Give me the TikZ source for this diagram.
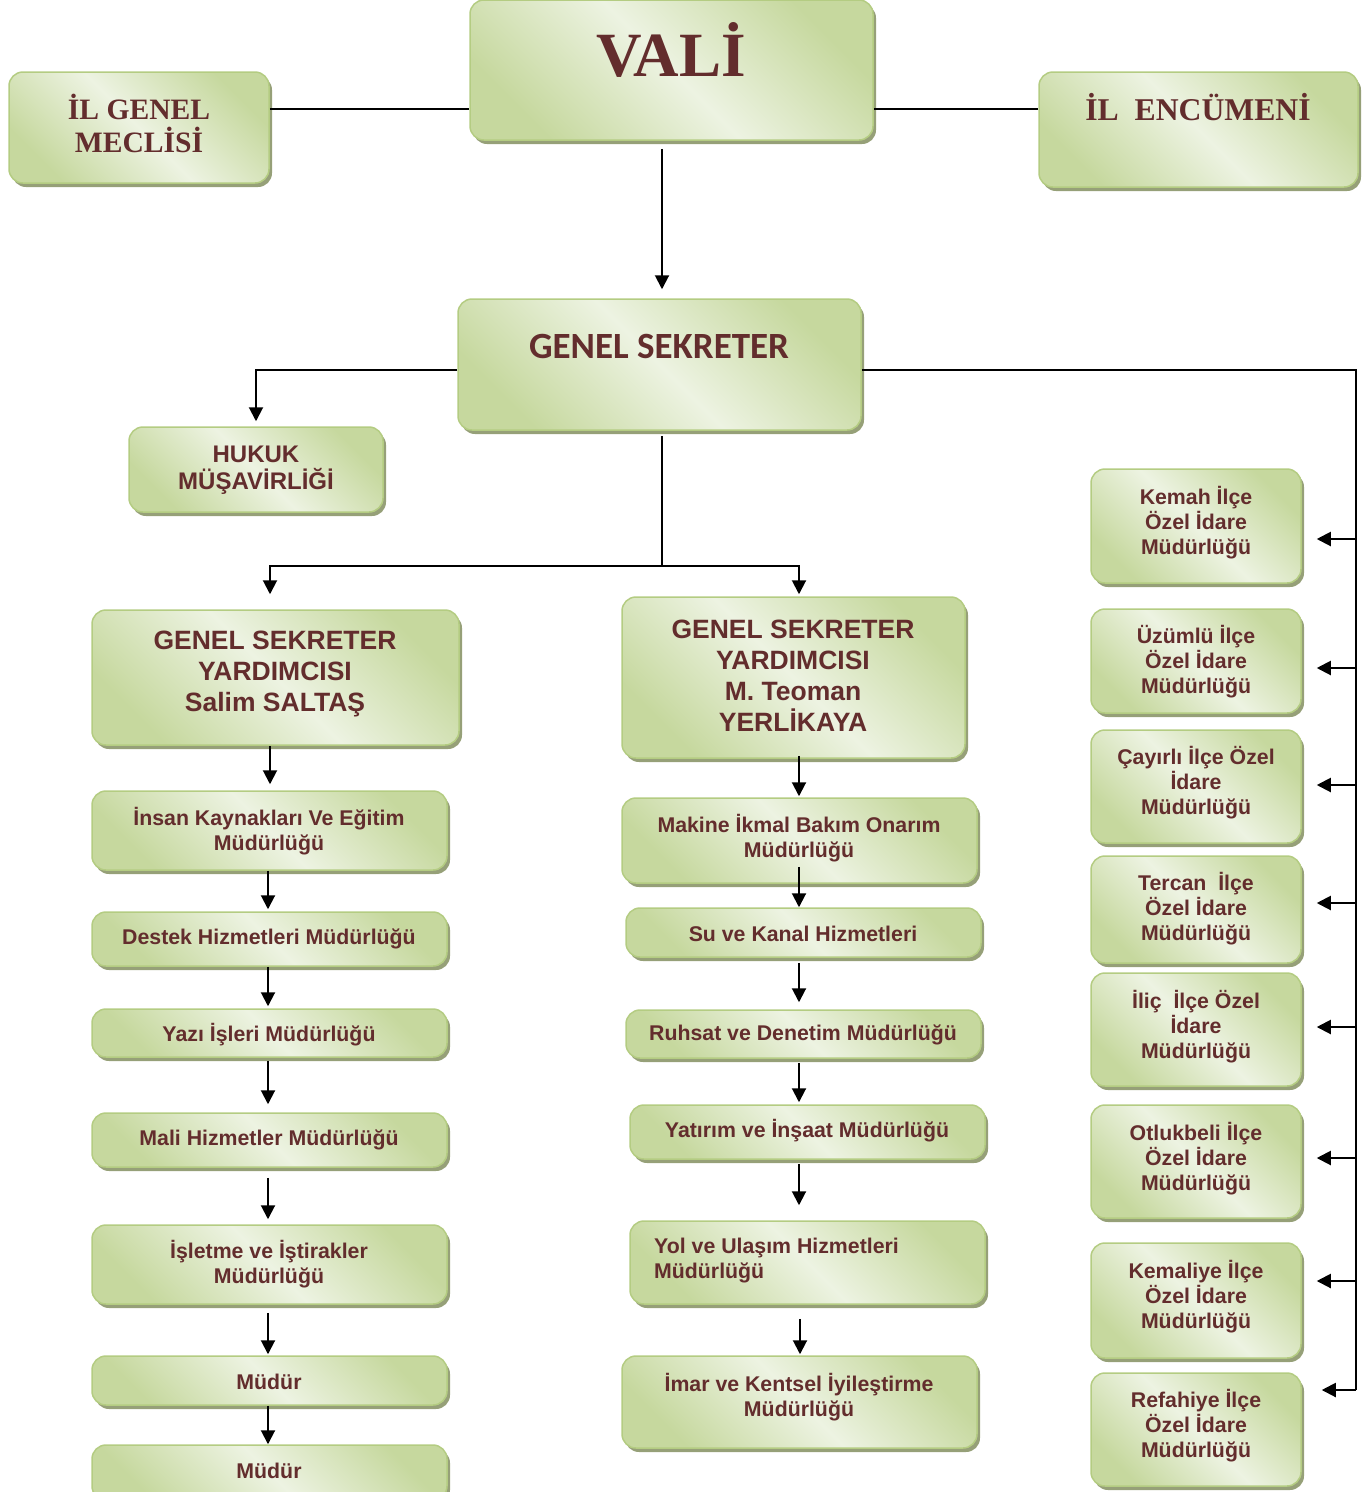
\documentclass[tikz,border=0pt]{standalone}
\usepackage{fontspec}
\setmainfont{Liberation Serif}
\setsansfont{Liberation Sans}
\newfontfamily\calfont{Carlito}
\usetikzlibrary{shadows,arrows.meta,calc}
\definecolor{txtc}{RGB}{99,45,45}
\definecolor{gdark}{RGB}{198,216,158}
\definecolor{glight}{RGB}{237,243,226}
\definecolor{bordc}{RGB}{180,204,130}
\definecolor{shadc}{RGB}{150,160,120}
\tikzset{
  box/.style={draw=bordc, line width=1.5pt, rounded corners=14pt,
    top color=gdark, bottom color=gdark, middle color=glight, shading angle=-45,
    drop shadow={shadow xshift=3pt, shadow yshift=-4pt, fill=shadc, opacity=1},
    inner sep=0pt},
  st/.style={font=\sffamily\bfseries\fontsize{21.3}{25}\selectfont, text=txtc, align=center, inner sep=0pt, yshift=-2pt},
  sbig/.style={font=\sffamily\bfseries\fontsize{26.5}{31}\selectfont, text=txtc, align=center, inner sep=0pt, yshift=-2pt},
  rm/.style={font=\rmfamily\bfseries, text=txtc, align=center, inner sep=0pt},
  ln/.style={line width=1.6pt},
  arr/.style={line width=2pt, -{Triangle[length=14pt,width=14pt]}}
}
\newcommand\bx[5]{\node[box, minimum width={(#4-#2)*1pt}, minimum height={(#5-#3)*1pt}] (#1) at ({(#2+#4)/2},{(#3+#5)/2}) {};}
\newcommand\varr[5]{\draw[arr, shorten <=#4pt, shorten >=#5pt] (#1 |- #2.south) -- (#1 |- #3.north);}
\begin{document}
\begin{tikzpicture}[x=1pt,y=-1pt]
\useasboundingbox (0,0) rectangle (1372,1492);
% top row
\bx{vali}{470}{0}{873}{140}
\node[rm, font=\rmfamily\bfseries\fontsize{63}{64}\selectfont] (valit) at (671,50) {VALİ};
\bx{meclis}{9}{72}{269}{183}
\node[rm, font=\rmfamily\bfseries\fontsize{29.6}{33}\selectfont] (meclist) at (139,123) {İL GENEL\\MECLİSİ};
\bx{enc}{1039}{72}{1358}{187}
\node[rm, font=\rmfamily\bfseries\fontsize{31.7}{33}\selectfont] (enct) at (1198,107) {İL\ \ ENCÜMENİ};
% genel sekreter
\bx{gs}{458}{299}{861}{430}
\node[text=txtc, inner sep=0pt, font=\calfont\bfseries\fontsize{37}{40}\selectfont] (gst) at (659,346) {GENEL SEKRETER};
\bx{hukuk}{129}{427}{383}{512}
\node[st, font=\sffamily\bfseries\fontsize{24}{27}\selectfont] (hukukt) at (256,468) {HUKUK\\MÜŞAVİRLİĞİ};
% deputies
\bx{gsy1}{92}{610}{459}{745}
\node[sbig] (gsy1t) at (275,672) {GENEL SEKRETER\\YARDIMCISI\\Salim SALTAŞ};
\bx{gsy2}{622}{597}{965}{758}
\node[sbig] (gsy2t) at (793,674) {GENEL SEKRETER\\YARDIMCISI\\M. Teoman\\YERLİKAYA};
% left column
\bx{ik}{92}{791}{447}{870}
\node[st] (ikt) at (269,829) {İnsan Kaynakları Ve Eğitim\\Müdürlüğü};
\bx{destek}{92}{912}{447}{966}
\node[st] (destekt) at (269,937) {Destek Hizmetleri Müdürlüğü};
\bx{yazi}{92}{1009}{447}{1057}
\node[st] (yazit) at (269,1033) {Yazı İşleri Müdürlüğü};
\bx{mali}{92}{1113}{447}{1167}
\node[st] (malit) at (269,1138) {Mali Hizmetler Müdürlüğü};
\bx{isl}{92}{1225}{447}{1304}
\node[st] (islt) at (269,1262) {İşletme ve İştirakler\\Müdürlüğü};
\bx{mud1}{92}{1356}{447}{1405}
\node[st] (mud1t) at (269,1380) {Müdür};
\bx{mud2}{92}{1445}{447}{1500}
\node[st] (mud2t) at (269,1469) {Müdür};
% middle column
\bx{makine}{622}{798}{977}{883}
\node[st] (makinet) at (799,836) {Makine İkmal Bakım Onarım\\Müdürlüğü};
\bx{su}{626}{908}{981}{957}
\node[st] (sut) at (803,932) {Su ve Kanal Hizmetleri};
\bx{ruhsat}{626}{1010}{981}{1058}
\node[st] (ruhsatt) at (803,1033) {Ruhsat ve Denetim Müdürlüğü};
\bx{yatirim}{630}{1105}{985}{1159}
\node[st] (yatirimt) at (807,1129) {Yatırım ve İnşaat Müdürlüğü};
\bx{yol}{630}{1221}{985}{1304}
\node[st, align=left, anchor=west] (yolt) at (654,1259) {Yol ve Ulaşım Hizmetleri\\Müdürlüğü};
\bx{imar}{622}{1356}{977}{1448}
\node[st] (imart) at (799,1395) {İmar ve Kentsel İyileştirme\\Müdürlüğü};
% right column
\bx{r1}{1091}{469}{1301}{583}
\node[st] (r1t) at (1196,521) {Kemah İlçe\\Özel İdare\\Müdürlüğü};
\bx{r2}{1091}{609}{1301}{713}
\node[st] (r2t) at (1196,660) {Üzümlü İlçe\\Özel İdare\\Müdürlüğü};
\bx{r3}{1091}{730}{1301}{843}
\node[st] (r3t) at (1196,781) {Çayırlı İlçe Özel\\İdare\\Müdürlüğü};
\bx{r4}{1091}{856}{1301}{963}
\node[st] (r4t) at (1196,907) {Tercan\ \ İlçe\\Özel İdare\\Müdürlüğü};
\bx{r5}{1091}{973}{1301}{1086}
\node[st] (r5t) at (1196,1025) {İliç\ \ İlçe Özel\\İdare\\Müdürlüğü};
\bx{r6}{1091}{1105}{1301}{1218}
\node[st] (r6t) at (1196,1157) {Otlukbeli İlçe\\Özel İdare\\Müdürlüğü};
\bx{r7}{1091}{1243}{1301}{1358}
\node[st] (r7t) at (1196,1295) {Kemaliye İlçe\\Özel İdare\\Müdürlüğü};
\bx{r8}{1091}{1373}{1301}{1486}
\node[st] (r8t) at (1196,1424) {Refahiye İlçe\\Özel İdare\\Müdürlüğü};
% coordinates
\coordinate (topline) at (0,109);
\coordinate (vx) at (662,0);
\coordinate (lvl) at (0,370);
\coordinate (rv) at (1356,370);
\coordinate (rvend) at (1356,1390);
\coordinate (split) at (662,566);
\coordinate (lx) at (270,0);
\coordinate (lx2) at (268,0);
\coordinate (mx) at (799,0);
\coordinate (mx2) at (800,0);
\coordinate (a1) at (1356,539);
\coordinate (a2) at (1356,668);
\coordinate (a3) at (1356,785);
\coordinate (a4) at (1356,903);
\coordinate (a5) at (1356,1027);
\coordinate (a6) at (1356,1158);
\coordinate (a7) at (1356,1281);
\coordinate (a8) at (1356,1390);
% connectors
\draw[ln] (meclis.east |- topline) -- (vali.west |- topline);
\draw[ln] (vali.east |- topline) -- (enc.west |- topline);
\draw[arr, shorten <=8pt, shorten >=9pt] (vx |- vali.south) -- (vx |- gs.north);
\draw[arr, shorten >=5pt] (gs.west |- lvl) -| (hukuk.north);
\draw[ln] (gs.east |- lvl) -- (rv) -- (rvend);
\foreach \i in {1,...,7} \draw[arr, shorten >=15pt] (a\i) -- (a\i -| r\i.east);
\draw[arr, shorten >=20pt] (a8) -- (a8 -| r8.east);
\draw[ln, shorten <=5pt] (vx |- gs.south) -- (split);
\draw[arr, shorten >=15pt] (split) -- (lx |- split) -- (lx |- gsy1.north);
\draw[arr, shorten >=2pt] (split) -- (mx |- split) -- (mx |- gsy2.north);
% left column arrows
\varr{lx}{gsy1}{ik}{0}{6}
\varr{lx2}{ik}{destek}{0}{2}
\varr{lx2}{destek}{yazi}{0}{2}
\varr{lx2}{yazi}{mali}{3}{8}
\varr{lx2}{mali}{isl}{10}{5}
\varr{lx2}{isl}{mud1}{8}{1}
\varr{lx2}{mud1}{mud2}{0}{0}
% middle column arrows
\varr{mx}{gsy2}{makine}{-3}{1}
\varr{mx}{makine}{su}{-17}{0}
\varr{mx}{su}{ruhsat}{5}{7}
\varr{mx}{ruhsat}{yatirim}{4}{2}
\varr{mx}{yatirim}{yol}{4}{15}
\varr{mx2}{yol}{imar}{14}{1}
\end{tikzpicture}
\end{document}
